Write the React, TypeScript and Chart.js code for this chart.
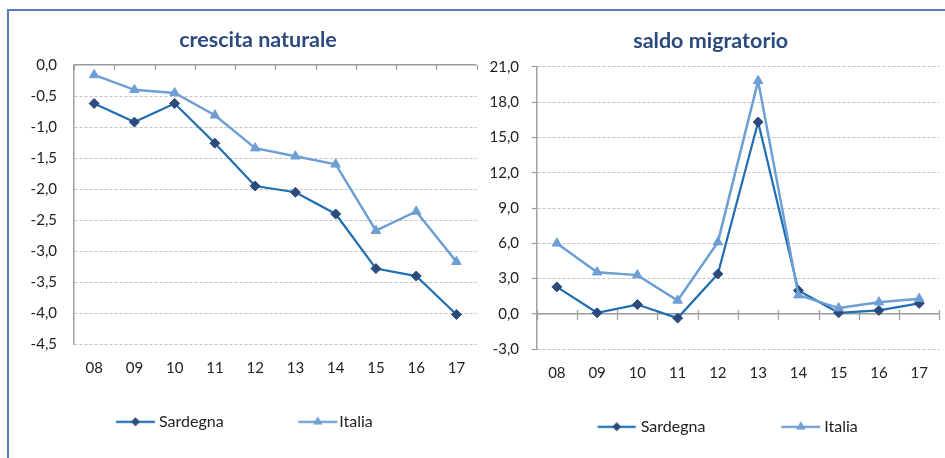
import React, { useEffect, useRef } from 'react';
import { Chart, registerables } from 'chart.js';

Chart.register(...registerables);

// ---------------- data ----------------
const categories = ['08', '09', '10', '11', '12', '13', '14', '15', '16', '17'];
const seriesNames = ['Sardegna', 'Italia'];
const chartTitles = ['crescita naturale', 'saldo migratorio'];

const naturalSardegna = [-0.62, -0.92, -0.62, -1.26, -1.95, -2.05, -2.4, -3.28, -3.4, -4.02];
const naturalItalia = [-0.16, -0.4, -0.45, -0.81, -1.34, -1.47, -1.6, -2.67, -2.36, -3.17];

const migratorySardegna = [2.3, 0.1, 0.8, -0.35, 3.4, 16.3, 2.0, 0.1, 0.3, 0.9];
const migratoryItalia = [6.0, 3.55, 3.3, 1.15, 6.1, 19.8, 1.6, 0.5, 1.0, 1.3];

const naturalAxis = { min: -4.5, max: 0, step: 0.5 };
const migratoryAxis = { min: -3, max: 21, step: 3 };

// ---------------- styles ----------------
const FONT = 'Lato, "Open Sans", sans-serif';
const TICK_SIZE = 15;
const LEGEND_SIZE = 16;
const TITLE_SIZE = 21.5;
const TEXT_COLOR = '#222222';
const TITLE_COLOR = '#2b4a7d';
const SARD_LINE = '#1f6fb2';
const SARD_MARK = '#2c4a7c';
const ITA_LINE = '#6d9ed4';
const ITA_MARK = '#6d9ed4';
const GRID_COLOR = '#c2c2c2';
const AXIS_COLOR = '#a0a0a0';

const leftSpec = {
  left: 10, top: 11, width: 470, height: 440,
  area: { left: 64, right: 467, top: 54, bottom: 333.3 },
  padLeft: 14,
  titleX: 248, titleY: 29,
  xLabelY: 357, yLabelRight: 47, yTickLen: 0,
  legendY: 410.7, legendText: [149, 329.3],
  legendLines: [{ len: 39, gap: 4 }, { len: 39, gap: 2 }],
  zeroTicks: { up: 0, down: 5 },
  title: chartTitles[0],
  sardegna: naturalSardegna, italia: naturalItalia, axis: naturalAxis,
};

const rightSpec = {
  left: 480, top: 11, width: 465, height: 440,
  area: { left: 56.7, right: 459.3, top: 55.7, bottom: 338.3 },
  padLeft: 4,
  titleX: 230.7, titleY: 29.7,
  xLabelY: 361.7, yLabelRight: 39, yTickLen: 5,
  legendY: 415.7, legendText: [160.7, 344.3],
  legendLines: [{ len: 38, gap: 5 }, { len: 39, gap: 4 }],
  zeroTicks: { up: 4, down: 6 },
  title: chartTitles[1],
  sardegna: migratorySardegna, italia: migratoryItalia, axis: migratoryAxis,
};

function makeIcon(kind: string, lineColor: string, markColor: string, BW: number, len: number, gap: number) {
  const endRel = BW / 2 + LEGEND_SIZE / 2 - gap;
  const startRel = endRel - len;
  const half = Math.ceil(Math.max(Math.abs(startRel), Math.abs(endRel)) + 8);
  const c = document.createElement('canvas');
  c.width = half * 2;
  c.height = 20;
  const g = c.getContext('2d')!;
  const cy = 10;
  g.strokeStyle = lineColor;
  g.lineWidth = 2.25;
  g.beginPath();
  g.moveTo(half + startRel, cy);
  g.lineTo(half + endRel, cy);
  g.stroke();
  const mx = half + (startRel + endRel) / 2;
  g.fillStyle = markColor;
  g.beginPath();
  if (kind === 'diamond') {
    const r = 4.5;
    g.moveTo(mx, cy - r);
    g.lineTo(mx + r, cy);
    g.lineTo(mx, cy + r);
    g.lineTo(mx - r, cy);
  } else {
    const r = 5.5;
    g.moveTo(mx, cy - r);
    g.lineTo(mx + r * 0.866, cy + r / 2);
    g.lineTo(mx - r * 0.866, cy + r / 2);
  }
  g.closePath();
  g.fill();
  return c;
}

// category tick marks on the zero line
const zeroTicksPlugin = {
  id: 'zeroTicks',
  beforeDatasetsDraw(chart: any, _args: any, opts: any) {
    const xs = chart.scales.x;
    const ys = chart.scales.y;
    const y0 = ys.getPixelForValue(0);
    const ctx = chart.ctx;
    ctx.save();
    ctx.strokeStyle = AXIS_COLOR;
    ctx.lineWidth = 1.25;
    ctx.setLineDash([]);
    ctx.beginPath();
    for (let i = 0; i <= xs.ticks.length; i++) {
      const px = Math.round(xs.getPixelForValue(i - 0.5)) + 0.5;
      ctx.moveTo(px, y0 - opts.up);
      ctx.lineTo(px, y0 + opts.down);
    }
    ctx.stroke();
    ctx.restore();
  },
};

// horizontal placement of title and legend boxes
const placeBoxesPlugin = {
  id: 'placeBoxes',
  afterLayout(chart: any, _args: any, opts: any) {
    const lg = chart.legend;
    if (lg && typeof opts.legendLeft === 'number') {
      const dx = opts.legendLeft - lg.left;
      lg.left += dx;
      lg.right += dx;
    }
    const tb = chart.titleBlock;
    if (tb && typeof opts.titleX === 'number') {
      const dx = opts.titleX - (tb.left + tb.right) / 2;
      tb.left += dx;
      tb.right += dx;
    }
  },
};

function buildConfig(spec: any) {
  const m = document.createElement('canvas').getContext('2d')!;
  m.font = `${LEGEND_SIZE}px ${FONT}`;
  const t1 = m.measureText(seriesNames[0]).width;
  const half = LEGEND_SIZE / 2;
  const aR = spec.area.right;
  const [sStart, iStart] = spec.legendText;
  const P = 10;
  const BW = iStart - sStart - t1 - half - P;
  const legendLeft = sStart - half - P - BW;
  const L = spec.padLeft;
  const R = spec.width - aR;
  const yW = spec.area.left - L;
  const titleLH = TITLE_SIZE * 1.2;
  const T = spec.titleY - titleLH / 2;
  const B = spec.area.top - T - titleLH;
  const Hx = spec.legendY - spec.area.bottom - P - half;
  const legendH = LEGEND_SIZE + P + 10;
  const pb = spec.height - spec.area.bottom - Hx - legendH;
  const xPad = spec.xLabelY - spec.area.bottom - (TICK_SIZE * 1.2) / 2;
  const yPad = spec.area.left - spec.yLabelRight - spec.yTickLen;

  const iconS = makeIcon('diamond', SARD_LINE, SARD_MARK, BW, spec.legendLines[0].len, spec.legendLines[0].gap);
  const iconI = makeIcon('triangle', ITA_LINE, ITA_MARK, BW, spec.legendLines[1].len, spec.legendLines[1].gap);

  const isZero = (c: any) => c && c.tick && Math.abs(c.tick.value) < 1e-9;

  return {
    type: 'line',
    data: {
      labels: categories,
      datasets: [
        {
          label: seriesNames[0],
          data: spec.sardegna,
          borderColor: SARD_LINE,
          backgroundColor: SARD_MARK,
          borderWidth: 2.25,
          pointStyle: 'rectRot',
          pointRadius: 5,
          pointBackgroundColor: SARD_MARK,
          pointBorderColor: SARD_MARK,
          pointBorderWidth: 1,
          tension: 0,
          order: 1,
        },
        {
          label: seriesNames[1],
          data: spec.italia,
          borderColor: ITA_LINE,
          backgroundColor: ITA_MARK,
          borderWidth: 2.5,
          pointStyle: 'triangle',
          pointRadius: 5.5,
          pointBackgroundColor: ITA_MARK,
          pointBorderColor: ITA_MARK,
          pointBorderWidth: 1,
          tension: 0,
          order: 0,
        },
      ],
    },
    options: {
      responsive: false,
      animation: false,
      devicePixelRatio: 1,
      events: [],
      layout: { autoPadding: false, padding: { left: L, right: R, top: 0, bottom: pb } },
      scales: {
        x: {
          type: 'category',
          offset: true,
          grid: { display: false, drawTicks: false },
          border: { display: false },
          ticks: {
            font: { family: FONT, size: TICK_SIZE },
            color: TEXT_COLOR,
            padding: xPad,
            maxRotation: 0,
            autoSkip: false,
          },
          afterFit: (s: any) => { s.height = Hx; },
        },
        y: {
          min: spec.axis.min,
          max: spec.axis.max,
          grid: {
            color: (c: any) => (isZero(c) ? '#9a9a9a' : GRID_COLOR),
            lineWidth: (c: any) => (isZero(c) ? 1.5 : 1),
            drawTicks: spec.yTickLen > 0,
            tickLength: spec.yTickLen,
            tickColor: AXIS_COLOR,
            tickWidth: 1.25,
            tickBorderDash: [],
          },
          border: {
            display: true,
            color: AXIS_COLOR,
            width: 1.5,
            dash: (c: any) => (isZero(c) ? [] : [3, 2]),
          },
          ticks: {
            stepSize: spec.axis.step,
            font: { family: FONT, size: TICK_SIZE },
            color: TEXT_COLOR,
            padding: yPad,
            callback: (v: any) => Number(v).toFixed(1).replace('.', ','),
          },
          afterFit: (s: any) => { s.width = yW; },
        },
      },
      plugins: {
        zeroTicks: spec.zeroTicks,
        placeBoxes: { legendLeft, titleX: spec.titleX },
        tooltip: { enabled: false },
        title: {
          display: true,
          text: spec.title,
          color: TITLE_COLOR,
          font: { family: FONT, size: TITLE_SIZE, weight: 'bold' },
          padding: { top: T, bottom: B },
        },
        legend: {
          display: true,
          position: 'bottom',
          align: 'start',
          labels: {
            usePointStyle: true,
            pointStyleWidth: BW,
            padding: P,
            color: TEXT_COLOR,
            font: { family: FONT, size: LEGEND_SIZE },
            generateLabels: () => [
              { text: seriesNames[0], pointStyle: iconS, fillStyle: 'rgba(0,0,0,0)', strokeStyle: 'rgba(0,0,0,0)', lineWidth: 0, hidden: false, datasetIndex: 0, fontColor: TEXT_COLOR },
              { text: seriesNames[1], pointStyle: iconI, fillStyle: 'rgba(0,0,0,0)', strokeStyle: 'rgba(0,0,0,0)', lineWidth: 0, hidden: false, datasetIndex: 1, fontColor: TEXT_COLOR },
            ],
          },
        },
      },
    },
    plugins: [zeroTicksPlugin, placeBoxesPlugin],
  };
}

function ChartPanel({ spec }: { spec: any }) {
  const ref = useRef<HTMLCanvasElement>(null);
  useEffect(() => {
    if (!ref.current) return;
    const chart = new Chart(ref.current, buildConfig(spec) as any);
    return () => chart.destroy();
  }, [spec]);
  return (
    <canvas
      ref={ref}
      width={spec.width}
      height={spec.height}
      style={{ position: 'absolute', left: spec.left, top: spec.top, width: spec.width, height: spec.height }}
    />
  );
}

export default function App() {
  return (
    <div style={{ position: 'absolute', left: 0, top: 0, width: 945, height: 458, overflow: 'hidden', background: '#ffffff' }}>
      <div
        style={{
          position: 'absolute', left: 7, top: 9, width: 938, height: 449, boxSizing: 'border-box',
          borderTop: '2px solid #5b7db6', borderLeft: '2px solid #5b7db6',
        }}
      />
      <ChartPanel spec={leftSpec} />
      <ChartPanel spec={rightSpec} />
    </div>
  );
}
